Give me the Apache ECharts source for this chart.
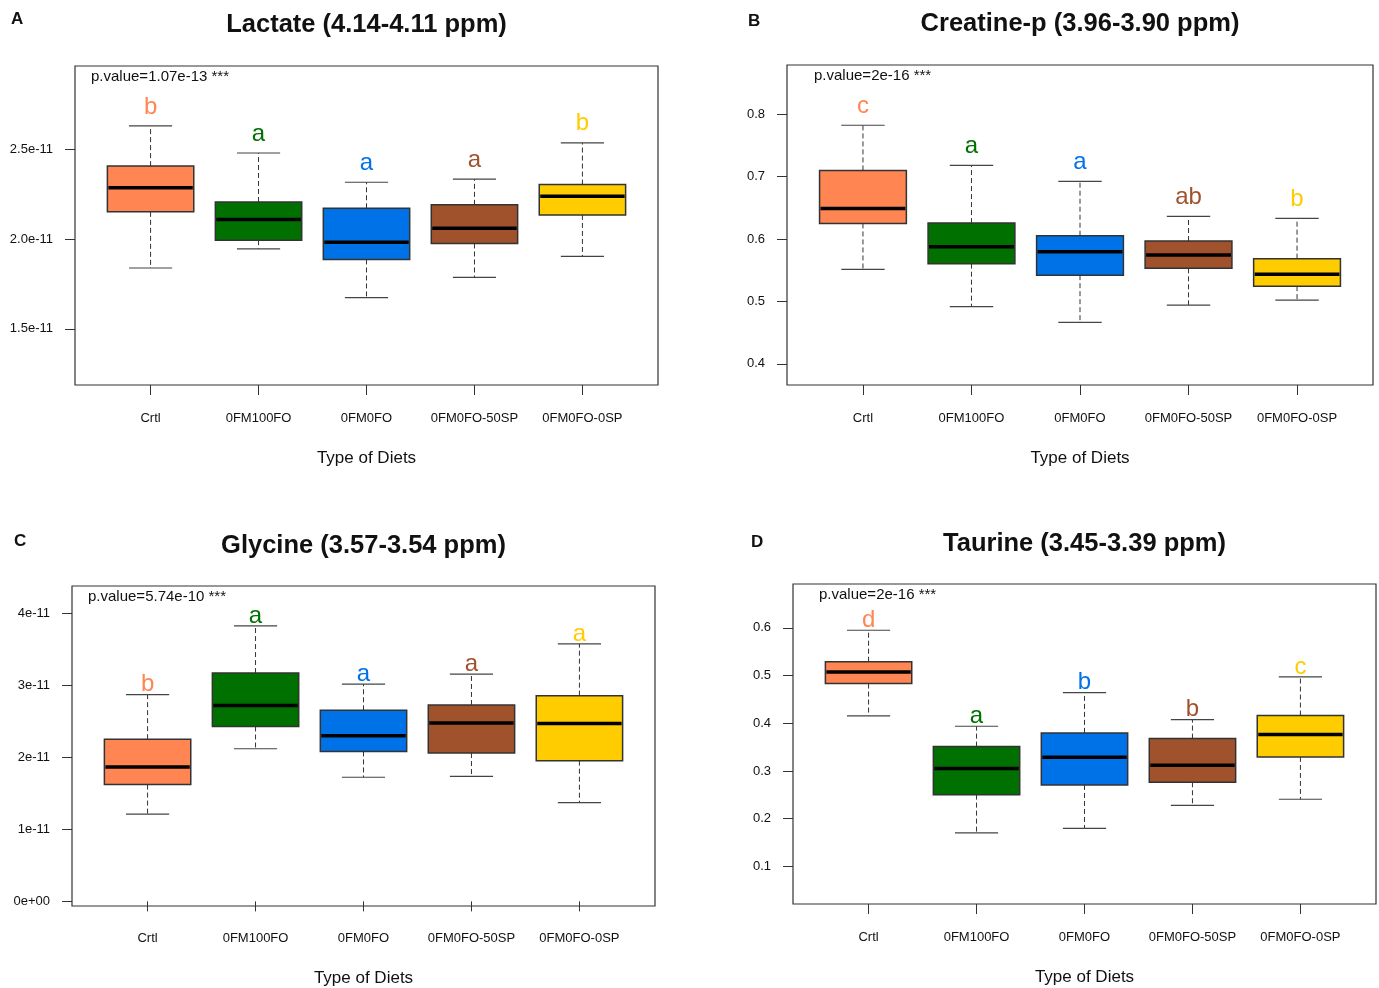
<!DOCTYPE html>
<html><head><meta charset="utf-8">
<script src="https://cdn.jsdelivr.net/npm/echarts@6/dist/echarts.min.js"></script>
<style>html,body{margin:0;padding:0;background:#fff}#chart{width:1379px;height:988px}</style>
</head><body><div id="chart"></div>
<script>
// ---------- data ----------
const categories = ['Crtl', '0FM100FO', '0FM0FO', '0FM0FO-50SP', '0FM0FO-0SP'];
const boxColors = ['#FF8552', '#007000', '#0072E8', '#A0522D', '#FFCC00'];

// A: Lactate
const lactateLow    = [1.839e-11, 1.946e-11, 1.674e-11, 1.787e-11, 1.904e-11];
const lactateQ1     = [2.152e-11, 1.994e-11, 1.887e-11, 1.976e-11, 2.135e-11];
const lactateMedian = [2.287e-11, 2.109e-11, 1.983e-11, 2.061e-11, 2.239e-11];
const lactateQ3     = [2.407e-11, 2.207e-11, 2.172e-11, 2.191e-11, 2.304e-11];
const lactateHigh   = [2.631e-11, 2.480e-11, 2.317e-11, 2.335e-11, 2.537e-11];
const lactateLetters = ['b', 'a', 'a', 'a', 'b'];
const lactateTicks = [1.5e-11, 2.0e-11, 2.5e-11];
const lactateTickLabels = ['1.5e-11', '2.0e-11', '2.5e-11'];
const lactatePValue = 'p.value=1.07e-13 ***';

// B: Creatine-p
const creatineLow    = [0.5515, 0.4915, 0.4664, 0.4941, 0.5021];
const creatineQ1     = [0.6250, 0.5605, 0.5421, 0.5531, 0.5245];
const creatineMedian = [0.6488, 0.5877, 0.5797, 0.5744, 0.5435];
const creatineQ3     = [0.7100, 0.6256, 0.6053, 0.5968, 0.5685];
const creatineHigh   = [0.7824, 0.7180, 0.6925, 0.6363, 0.6331];
const creatineLetters = ['c', 'a', 'a', 'ab', 'b'];
const creatineTicks = [0.4, 0.5, 0.6, 0.7, 0.8];
const creatineTickLabels = ['0.4', '0.5', '0.6', '0.7', '0.8'];
const creatinePValue = 'p.value=2e-16 ***';

// C: Glycine
const glycineLow    = [1.212e-11, 2.120e-11, 1.724e-11, 1.737e-11, 1.373e-11];
const glycineQ1     = [1.622e-11, 2.429e-11, 2.083e-11, 2.060e-11, 1.954e-11];
const glycineMedian = [1.866e-11, 2.719e-11, 2.300e-11, 2.479e-11, 2.470e-11];
const glycineQ3     = [2.253e-11, 3.171e-11, 2.654e-11, 2.728e-11, 2.857e-11];
const glycineHigh   = [2.871e-11, 3.825e-11, 3.018e-11, 3.157e-11, 3.576e-11];
const glycineLetters = ['b', 'a', 'a', 'a', 'a'];
const glycineTicks = [0, 1e-11, 2e-11, 3e-11, 4e-11];
const glycineTickLabels = ['0e+00', '1e-11', '2e-11', '3e-11', '4e-11'];
const glycinePValue = 'p.value=5.74e-10 ***';

// D: Taurine
const taurineLow    = [0.4154, 0.1700, 0.1797, 0.2280, 0.2406];
const taurineQ1     = [0.4832, 0.2503, 0.2706, 0.2762, 0.3294];
const taurineMedian = [0.5077, 0.3049, 0.3287, 0.3119, 0.3762];
const taurineQ3     = [0.5290, 0.3510, 0.3797, 0.3678, 0.4161];
const taurineHigh   = [0.5950, 0.3937, 0.4643, 0.4077, 0.4972];
const taurineLetters = ['d', 'a', 'b', 'b', 'c'];
const taurineTicks = [0.1, 0.2, 0.3, 0.4, 0.5, 0.6];
const taurineTickLabels = ['0.1', '0.2', '0.3', '0.4', '0.5', '0.6'];
const taurinePValue = 'p.value=2e-16 ***';

// ---------- layout ----------
const FONT = '"Liberation Sans", Arial, Helvetica, sans-serif';
const panels = [
  { tag: 'A', title: 'Lactate (4.14-4.11 ppm)', low: lactateLow, q1: lactateQ1, med: lactateMedian, q3: lactateQ3, high: lactateHigh,
    letters: lactateLetters, ticks: lactateTicks, tickLabels: lactateTickLabels, pv: lactatePValue,
    frame: { l: 75, r: 658, t: 66, b: 385 }, yMin: 1.187e-11, yMax: 2.965e-11,
    titleY: 25, tagPos: [11, 19], pvX: 91, letterLift: 7 },
  { tag: 'B', title: 'Creatine-p (3.96-3.90 ppm)', low: creatineLow, q1: creatineQ1, med: creatineMedian, q3: creatineQ3, high: creatineHigh,
    letters: creatineLetters, ticks: creatineTicks, tickLabels: creatineTickLabels, pv: creatinePValue,
    frame: { l: 787, r: 1373, t: 65, b: 385 }, yMin: 0.366, yMax: 0.879,
    titleY: 24, tagPos: [748, 21], pvX: 814, letterLift: 7 },
  { tag: 'C', title: 'Glycine (3.57-3.54 ppm)', low: glycineLow, q1: glycineQ1, med: glycineMedian, q3: glycineQ3, high: glycineHigh,
    letters: glycineLetters, ticks: glycineTicks, tickLabels: glycineTickLabels, pv: glycinePValue,
    frame: { l: 72, r: 655, t: 586, b: 906 }, yMin: -0.05e-11, yMax: 4.38e-11,
    titleY: 546, tagPos: [14, 541], pvX: 88, letterLift: -2 },
  { tag: 'D', title: 'Taurine (3.45-3.39 ppm)', low: taurineLow, q1: taurineQ1, med: taurineMedian, q3: taurineQ3, high: taurineHigh,
    letters: taurineLetters, ticks: taurineTicks, tickLabels: taurineTickLabels, pv: taurinePValue,
    frame: { l: 793, r: 1376, t: 584, b: 904 }, yMin: 0.021, yMax: 0.692,
    titleY: 544, tagPos: [751, 542], pvX: 819, letterLift: -2 }
];

const grids = [], xAxes = [], yAxes = [], series = [], graphics = [];

panels.forEach(function (p, k) {
  const f = p.frame;
  const fw = f.r - f.l, fh = f.b - f.t;
  const pad = fw * 0.2 / 5.4;
  // frame grid
  grids.push({ left: f.l, top: f.t, width: fw, height: fh, show: true, borderColor: '#333', borderWidth: 1.2, backgroundColor: 'transparent', z: 5 });
  xAxes.push({ gridIndex: 2 * k, type: 'value', min: 0, max: 1, show: false });
  yAxes.push({ gridIndex: 2 * k, type: 'value', min: 0, max: 1, show: false });
  // data grid
  grids.push({ left: f.l + pad, top: f.t, width: fw - 2 * pad, height: fh, show: false });
  xAxes.push({
    gridIndex: 2 * k + 1, type: 'category', data: categories,
    axisLine: { show: false },
    axisTick: { show: true, alignWithLabel: true, length: 10, lineStyle: { color: '#333', width: 1 } },
    axisLabel: { interval: 0, margin: 27, fontSize: 13, color: '#111', fontFamily: FONT },
    splitLine: { show: false },
    name: 'Type of Diets', nameLocation: 'middle', nameGap: 65,
    nameTextStyle: { fontSize: 17, color: '#111', fontFamily: FONT }
  });
  const ticks = p.ticks, labels = p.tickLabels;
  yAxes.push({
    gridIndex: 2 * k + 1, type: 'value', min: p.yMin, max: p.yMax, offset: pad,
    axisLine: { show: false },
    axisTick: { show: true, length: 10, customValues: ticks, lineStyle: { color: '#333', width: 1 } },
    axisLabel: {
      customValues: ticks, margin: 22, fontSize: 13, color: '#111', fontFamily: FONT,
      formatter: function (v) {
        let best = 0, d = Infinity;
        ticks.forEach(function (t, i) { const dd = Math.abs(t - v); if (dd < d) { d = dd; best = i; } });
        return labels[best];
      }
    },
    splitLine: { show: false }
  });
  const rows = categories.map(function (c, i) { return [i, p.low[i], p.q1[i], p.med[i], p.q3[i], p.high[i]]; });
  const lift = p.letterLift;
  series.push({
    type: 'custom', xAxisIndex: 2 * k + 1, yAxisIndex: 2 * k + 1, data: rows, clip: false,
    renderItem: function (params, api) {
      const x = api.value(0);
      const pl = api.coord([x, api.value(1)]);
      const p1 = api.coord([x, api.value(2)]);
      const pm = api.coord([x, api.value(3)]);
      const p3 = api.coord([x, api.value(4)]);
      const ph = api.coord([x, api.value(5)]);
      const bw = api.size([1, 0])[0] * 0.8;
      const cx = pl[0];
      const col = boxColors[params.dataIndex];
      const dash = { stroke: '#333', lineWidth: 1, lineDash: [5, 3] };
      const cap = { stroke: '#444', lineWidth: 1.2 };
      return {
        type: 'group',
        children: [
          { type: 'line', shape: { x1: cx, y1: p3[1], x2: cx, y2: ph[1] }, style: dash },
          { type: 'line', shape: { x1: cx, y1: p1[1], x2: cx, y2: pl[1] }, style: dash },
          { type: 'line', shape: { x1: cx - bw / 4, y1: ph[1], x2: cx + bw / 4, y2: ph[1] }, style: cap },
          { type: 'line', shape: { x1: cx - bw / 4, y1: pl[1], x2: cx + bw / 4, y2: pl[1] }, style: cap },
          { type: 'rect', shape: { x: cx - bw / 2, y: p3[1], width: bw, height: p1[1] - p3[1] }, style: { fill: col, stroke: '#333', lineWidth: 1.5 } },
          { type: 'line', shape: { x1: cx - bw / 2 + 1, y1: pm[1], x2: cx + bw / 2 - 1, y2: pm[1] }, style: { stroke: '#000', lineWidth: 3.5 } },
          { type: 'text', x: cx, y: ph[1] - lift, style: { text: p.letters[params.dataIndex], fill: col, fontSize: 24, fontFamily: FONT, align: 'center', verticalAlign: 'bottom' } }
        ]
      };
    }
  });
  graphics.push({ type: 'text', x: (f.l + f.r) / 2, y: p.titleY, style: { text: p.title, fill: '#111', fontSize: 25.5, fontWeight: 'bold', fontFamily: FONT, align: 'center', verticalAlign: 'middle' } });
  graphics.push({ type: 'text', x: p.tagPos[0], y: p.tagPos[1], style: { text: p.tag, fill: '#111', fontSize: 17, fontWeight: 'bold', fontFamily: FONT, align: 'left', verticalAlign: 'middle' } });
  graphics.push({ type: 'text', x: p.pvX, y: f.t + 10.5, style: { text: p.pv, fill: '#111', fontSize: 15, fontFamily: FONT, align: 'left', verticalAlign: 'middle' } });
});

const chart = echarts.init(document.getElementById('chart'), null, { renderer: 'canvas' });
chart.setOption({
  animation: false,
  backgroundColor: '#fff',
  grid: grids, xAxis: xAxes, yAxis: yAxes, series: series,
  graphic: { elements: graphics }
});
</script></body></html>
